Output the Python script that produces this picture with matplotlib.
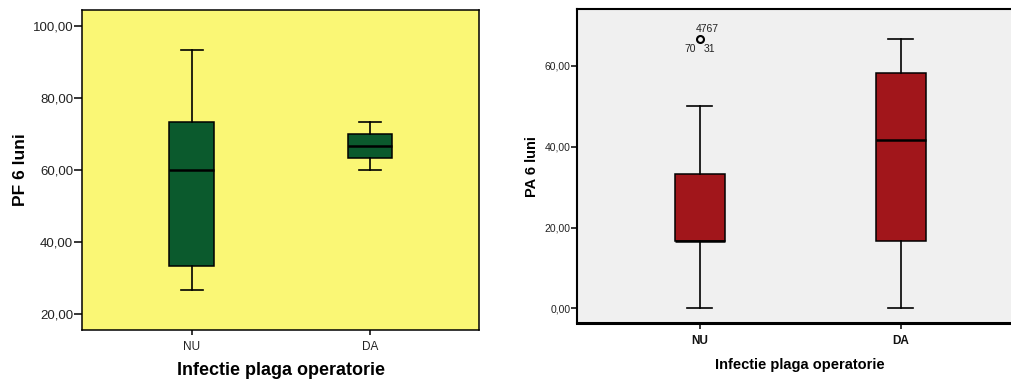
import matplotlib
matplotlib.use("Agg")
import matplotlib.pyplot as plt

plt.rcParams['font.family'] = ['Liberation Sans', 'DejaVu Sans']

# ---- data ----
categories = ["NU", "DA"]
xlabel_text = "Infectie plaga operatorie"

pf_label = "PF 6 luni"
pf_whislo = [26.67, 60.00]
pf_q1 = [33.33, 63.33]
pf_med = [60.00, 66.67]
pf_q3 = [73.33, 70.00]
pf_whishi = [93.33, 73.33]
pf_ticks = [20, 40, 60, 80, 100]
pf_ticklabels = ["20,00", "40,00", "60,00", "80,00", "100,00"]

pa_label = "PA 6 luni"
pa_whislo = [0.00, 0.00]
pa_q1 = [16.67, 16.67]
pa_med = [16.67, 41.67]
pa_q3 = [33.33, 58.33]
pa_whishi = [50.00, 66.67]
pa_fliers = [[66.67], []]
pa_flier_labels_top = ["4767"]
pa_flier_labels_bottom = ["70", "31"]
pa_ticks = [0, 20, 40, 60]
pa_ticklabels = ["0,00", "20,00", "40,00", "60,00"]


def stats(lo, q1, med, q3, hi, fl=None):
    out = []
    for i in range(len(lo)):
        out.append(dict(whislo=lo[i], q1=q1[i], med=med[i], q3=q3[i],
                        whishi=hi[i], fliers=(fl[i] if fl else [])))
    return out


fig = plt.figure(figsize=(10.11, 3.83), dpi=100)

# ---- left panel ----
ax1 = fig.add_axes([0.0811, 0.1384, 0.4738 - 0.0811, 0.9739 - 0.1384])
ax1.set_facecolor('#FAF775')
ax1.bxp(stats(pf_whislo, pf_q1, pf_med, pf_q3, pf_whishi), positions=[1, 2],
        widths=0.25, patch_artist=True, showfliers=False,
        boxprops=dict(facecolor='#0B5A2D', edgecolor='black', linewidth=1.1),
        medianprops=dict(color='black', linewidth=1.8),
        whiskerprops=dict(color='black', linewidth=1.2),
        capprops=dict(color='black', linewidth=1.2), capwidths=0.125)
ax1.set_xlim(0.385, 2.61)
ax1.set_ylim(15.6, 104.4)
ax1.set_yticks(pf_ticks)
ax1.set_yticklabels(pf_ticklabels, fontsize=9.5, color='#222222')
ax1.set_xticks([1, 2])
ax1.set_xticklabels(categories, fontsize=8.5, color='#222222')
ax1.tick_params(axis='y', length=5.8, width=1.1, pad=0.5)
ax1.tick_params(axis='x', length=3.8, width=1.1, pad=4)
for s in ax1.spines.values():
    s.set_linewidth(1.1)
ax1.set_ylabel(pf_label, fontsize=12.5, fontweight='bold', labelpad=3)
ax1.set_xlabel(xlabel_text, fontsize=13, fontweight='bold', labelpad=6.5)

# ---- right panel ----
ax2 = fig.add_axes([0.571, 0.1559, 1.012 - 0.571, 0.9757 - 0.1559])
ax2.set_facecolor('#F0F0F0')
ax2.bxp(stats(pa_whislo, pa_q1, pa_med, pa_q3, pa_whishi, pa_fliers), positions=[1, 2],
        widths=0.25, patch_artist=True, showfliers=True,
        boxprops=dict(facecolor='#A1161B', edgecolor='black', linewidth=1.1),
        medianprops=dict(color='black', linewidth=1.8),
        whiskerprops=dict(color='black', linewidth=1.2),
        capprops=dict(color='black', linewidth=1.2), capwidths=0.125,
        flierprops=dict(marker='o', markerfacecolor='none', markeredgecolor='black',
                        markersize=5, markeredgewidth=1.5))
ax2.set_xlim(0.389, 2.61)
ax2.set_ylim(-3.7, 74.0)
ax2.set_yticks(pa_ticks)
ax2.set_yticklabels(pa_ticklabels, fontsize=7.5, color='#222222')
ax2.set_xticks([1, 2])
ax2.set_xticklabels(categories, fontsize=8.5, fontweight='bold', color='#111111')
ax2.tick_params(axis='y', length=4.3, width=1.1, pad=0.5)
ax2.tick_params(axis='x', length=4.3, width=1.1, pad=4)
ax2.spines['left'].set_linewidth(1.5)
ax2.spines['top'].set_linewidth(1.5)
ax2.spines['bottom'].set_linewidth(2.2)
ax2.spines['right'].set_linewidth(1.5)
ax2.set_ylabel(pa_label, fontsize=10.5, fontweight='bold', labelpad=4)
ax2.set_xlabel(xlabel_text, fontsize=10.5, fontweight='bold', labelpad=8)

fx = 1
fy = pa_fliers[0][0]
ax2.annotate(pa_flier_labels_top[0], (fx, fy), xytext=(5, 7), textcoords='offset points',
             ha='center', va='center', fontsize=7.5, color='#222222')
ax2.annotate(pa_flier_labels_bottom[0], (fx, fy), xytext=(-7, -7), textcoords='offset points',
             ha='center', va='center', fontsize=7.5, color='#222222')
ax2.annotate(pa_flier_labels_bottom[1], (fx, fy), xytext=(7, -7), textcoords='offset points',
             ha='center', va='center', fontsize=7.5, color='#222222')

fig.savefig("out.png", dpi=100)
